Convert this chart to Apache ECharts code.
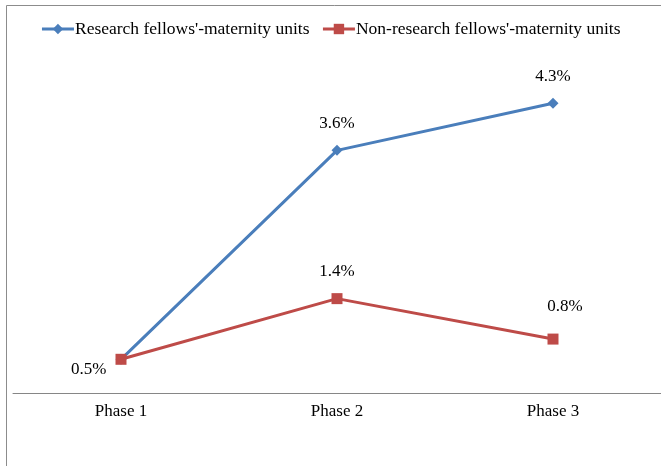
<!DOCTYPE html>
<html>
<head>
<meta charset="utf-8">
<script src="https://cdn.jsdelivr.net/npm/echarts@6/dist/echarts.min.js"></script>
<style>
  html, body { margin: 0; padding: 0; background: #fff; }
  #chart { width: 661px; height: 466px; }
</style>
</head>
<body>
<div id="chart"></div>
<script>
var categories = ['Phase 1', 'Phase 2', 'Phase 3']
var researchData = [0.5, 3.6, 4.3]
var nonResearchData = [0.5, 1.4, 0.8]
var seriesNames = ["Research fellows'-maternity units", "Non-research fellows'-maternity units"]

var chart = echarts.init(document.getElementById('chart'))
var font = 'Liberation Serif'

function labelFmt (p) {
  return p.value.toFixed(1) + '%'
}

chart.setOption({
  backgroundColor: '#fff',
  animation: false,
  graphic: [{
    type: 'rect',
    shape: { x: 6.5, y: 5.5, width: 700, height: 500 },
    style: { fill: 'none', stroke: '#8c8c8c', lineWidth: 1 },
    silent: true
  }],
  legend: {
    top: 15,
    left: 'center',
    itemWidth: 32,
    itemHeight: 13,
    itemGap: 12,
    lineStyle: { width: 3 },
    textStyle: { fontFamily: font, fontSize: 17.5, color: '#000', padding: [0, 0, 0, -4] },
    data: seriesNames
  },
  grid: {
    left: 13,
    top: 56,
    width: 652,
    bottom: 73,
    containLabel: false
  },
  xAxis: {
    type: 'category',
    data: categories,
    boundaryGap: true,
    axisLine: { lineStyle: { color: '#868686', width: 1 } },
    axisTick: { show: false },
    axisLabel: { fontFamily: font, fontSize: 17, color: '#000', margin: 10 }
  },
  yAxis: {
    type: 'value',
    min: 0,
    max: 5,
    interval: 1,
    show: false,
    splitLine: { show: false }
  },
  series: [{
    name: seriesNames[0],
    type: 'line',
    data: researchData.map(function (v, i) {
      return i === 0 ? { value: v, label: { show: false } } : v
    }),
    symbol: 'diamond',
    symbolSize: 11,
    lineStyle: { color: '#4a7ebb', width: 3 },
    itemStyle: { color: '#4a7ebb' },
    label: {
      show: true,
      position: 'top',
      distance: 13,
      formatter: labelFmt,
      fontFamily: font,
      fontSize: 17,
      color: '#000'
    },
    z: 2
  }, {
    name: seriesNames[1],
    type: 'line',
    data: nonResearchData.map(function (v, i) {
      if (i === 0) return { value: v, label: { position: 'left', distance: 9, offset: [0, 10] } }
      if (i === 2) return { value: v, label: { offset: [12, -6] } }
      return v
    }),
    symbol: 'rect',
    symbolSize: 11,
    lineStyle: { color: '#be4b48', width: 3 },
    itemStyle: { color: '#be4b48' },
    label: {
      show: true,
      position: 'top',
      distance: 13,
      formatter: labelFmt,
      fontFamily: font,
      fontSize: 17,
      color: '#000'
    },
    z: 3
  }]
})
</script>
</body>
</html>
